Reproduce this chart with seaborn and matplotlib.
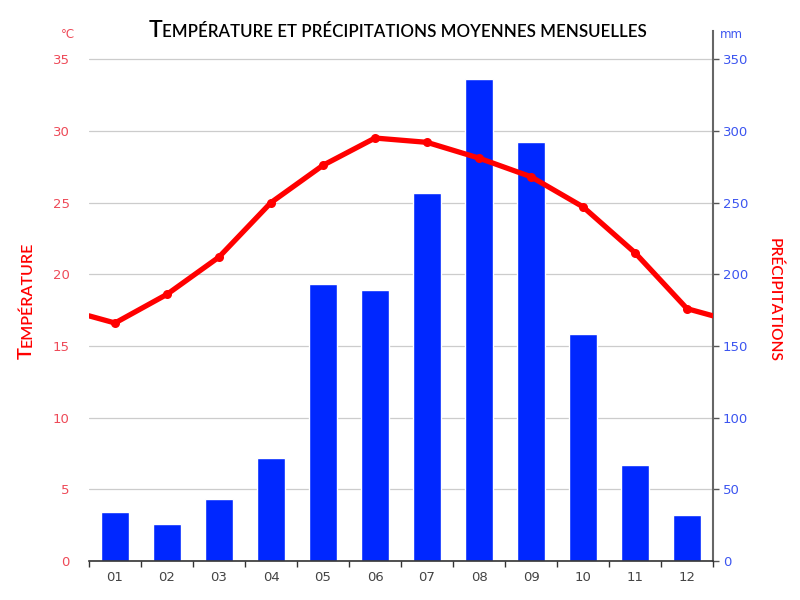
import numpy as np
import pandas as pd
import seaborn as sns
import matplotlib.pyplot as plt

# Data
months = ["01", "02", "03", "04", "05", "06", "07", "08", "09", "10", "11", "12"]
temperature = [16.6, 18.6, 21.2, 25.0, 27.6, 29.5, 29.2, 28.1, 26.8, 24.7, 21.5, 17.6]
precipitation = [34, 26, 43, 72, 193, 189, 257, 336, 292, 158, 67, 32]
temp_at_edges = 17.1  # where the curve meets both side borders

sns.set_theme(style="white")
plt.rcParams["font.family"] = ["Lato", "DejaVu Sans"]

RED = "#ff0000"
RED_TICK = "#ee4a58"
BLUE_BAR = "#0027ff"
BLUE_TICK = "#3c55f0"
TICK_FONT = ["Liberation Sans Narrow", "DejaVu Sans"]

df = pd.DataFrame({"month": months, "pos": np.arange(12),
                   "temp": temperature, "prec": precipitation})
line_df = pd.DataFrame({"pos": [-0.5] + list(range(12)) + [11.5],
                        "temp": [temp_at_edges] + temperature + [temp_at_edges]})

fig = plt.figure(figsize=(8, 6), dpi=100)
ax = fig.add_axes([0.11125, 0.065, 0.78, 0.883])
ax2 = ax.twinx()

# bars on the right (precipitation) axis
sns.barplot(data=df, x="pos", y="prec", ax=ax2, color=BLUE_BAR, width=0.52,
            saturation=1, native_scale=True)
# temperature curve on the left axis, drawn above the bars
ax.set_zorder(ax2.get_zorder() + 1)
ax.patch.set_visible(False)
sns.lineplot(data=line_df, x="pos", y="temp", ax=ax, color=RED, linewidth=3.8,
             marker="o", markersize=6.5, markeredgewidth=0,
             markevery=list(range(1, 13)), solid_capstyle="round")

top_ratio = (561 - 31) / 502
ax.set_xlim(-0.5, 11.5)
ax.set_ylim(0, 35 * top_ratio)
ax2.set_ylim(0, 350 * top_ratio)

ax.set_yticks(np.arange(0, 36, 5))
ax2.set_yticks(np.arange(0, 351, 50))
ax2.grid(axis="y", color="#cccccc", linewidth=0.9)
ax2.set_axisbelow(True)
ax.grid(False)

ax.set_xticks(np.arange(12))
ax.set_xticklabels(months)
ax.set_xticks(np.arange(-0.5, 12, 1), minor=True)
ax.tick_params(axis="x", which="major", length=0, pad=7, labelsize=9.5,
               labelcolor="#444444")
ax.tick_params(axis="x", which="minor", length=4, width=1, color="#333333",
               direction="out", bottom=True)
ax.tick_params(axis="y", length=0, pad=14, labelsize=9.5, labelcolor=RED_TICK)
ax2.tick_params(axis="y", length=4, width=1, color="#555555", pad=3,
                labelsize=9.5, labelcolor=BLUE_TICK, right=True)
for lab in ax.get_xticklabels() + ax.get_yticklabels() + ax2.get_yticklabels():
    lab.set_family(TICK_FONT)

ax.set_xlabel("")
ax.set_ylabel("")
ax2.set_xlabel("")
ax2.set_ylabel("")

for a in (ax, ax2):
    for side in ("top", "left", "right", "bottom"):
        a.spines[side].set_visible(False)
ax.spines["bottom"].set_visible(True)
ax.spines["bottom"].set_color("#333333")
ax.spines["bottom"].set_linewidth(1.2)
ax2.spines["right"].set_visible(True)
ax2.spines["right"].set_color("#666666")
ax2.spines["right"].set_linewidth(1.5)

# units above the axes
fig.text(68 / 800, 1 - 35 / 600, "°C", color=RED_TICK, fontsize=8.5,
         family=TICK_FONT, ha="center", va="center")
fig.text(731 / 800, 1 - 35 / 600, "mm", color=BLUE_TICK, fontsize=8.5,
         family=TICK_FONT, ha="center", va="center")


def small_caps(x_px, y_px, parts, color, rotation=0, weight="semibold"):
    """Place a string made of (text, size) pieces centred on (x_px, y_px)."""
    renderer = fig.canvas.get_renderer()
    widths = []
    for s, size in parts:
        t = fig.text(0, 0, s, fontsize=size, weight=weight)
        widths.append(t.get_window_extent(renderer).width)
        t.remove()
    total = sum(widths)
    d = {0: (1, 0), 90: (0, 1), 270: (0, -1)}[rotation]
    n = {0: (0, -1), 90: (1, 0), 270: (-1, 0)}[rotation]
    cross = parts[0][1] * 100 / 72 * 0.36
    pos = -total / 2
    for (s, size), w in zip(parts, widths):
        px = x_px + d[0] * pos + n[0] * cross
        py = y_px + d[1] * pos + n[1] * cross
        fig.text(px / 800, py / 600, s, fontsize=size, color=color,
                 weight=weight, rotation=rotation, rotation_mode="anchor",
                 ha="left", va="baseline")
        pos += w


fig.canvas.draw()
# y measured from bottom in pixels
small_caps(398, 600 - 29, [("T", 16.5),
           ("EMPÉRATURE ET PRÉCIPITATIONS MOYENNES MENSUELLES", 12.2)], "black")
small_caps(24, 600 - 300, [("T", 14.5), ("EMPÉRATURE", 11.5)], RED, rotation=90)
small_caps(775, 600 - 300, [("PRÉCIPITATIONS", 11.2)], RED, rotation=270)

fig.savefig("out.png", dpi=100)
